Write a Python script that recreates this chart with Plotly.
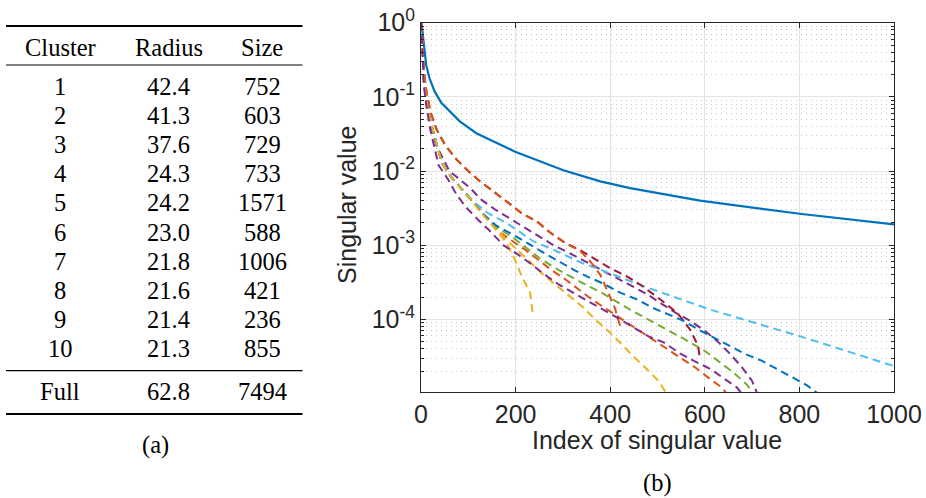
import plotly.graph_objects as go
import numpy as np

# ---------------- Table (a) data ----------------
table_header = ["Cluster", "Radius", "Size"]
clusters = ["1", "2", "3", "4", "5", "6", "7", "8", "9", "10"]
radius = ["42.4", "41.3", "37.6", "24.3", "24.2", "23.0", "21.8", "21.6", "21.4", "21.3"]
sizes = ["752", "603", "729", "733", "1571", "588", "1006", "421", "236", "855"]
full_row = ["Full", "62.8", "7494"]

# ---------------- Plot (b) data: index and log10(singular value) ----------------
full_idx = [1, 2, 4, 8, 11, 18, 29, 43, 61, 82, 117, 160, 199, 301, 379, 442, 590, 805, 1000]
full_log = [0, -0.05, -0.17, -0.39, -0.57, -0.75, -0.93, -1.08, -1.20, -1.33, -1.49, -1.62, -1.74,
            -1.99, -2.14, -2.23, -2.40, -2.58, -2.72]

c1_idx = [1, 3, 6, 10, 16, 26, 44, 65, 90, 114, 135, 160, 220, 277, 305, 333, 361, 425, 485, 516, 548, 580, 608, 636, 652]
c1_log = [0, -0.35, -0.75, -1.0, -1.22, -1.47, -1.89, -2.09, -2.27, -2.45, -2.61, -2.80, -3.06, -3.34, -3.46, -3.60,
          -3.73, -4.0, -4.25, -4.38, -4.52, -4.65, -4.79, -4.92, -5.05]

c2_idx = [1, 3, 6, 10, 16, 26, 44, 65, 90, 114, 135, 160, 181, 259, 291, 319, 343, 368, 400, 425, 449, 474, 502, 524]
c2_log = [0, -0.35, -0.75, -1.0, -1.22, -1.47, -1.89, -2.09, -2.27, -2.45, -2.61, -2.78, -2.93, -3.40, -3.57, -3.71,
          -3.84, -4.0, -4.18, -4.34, -4.50, -4.65, -4.83, -5.05]

c3_idx = [1, 3, 6, 12, 20, 32, 60, 104, 128, 157, 185, 220, 252, 280, 315, 347, 382, 414, 446, 478, 506, 538, 569,
          601, 629, 654, 679, 700, 714]
c3_log = [0, -0.35, -0.8, -1.1, -1.35, -1.65, -2.0, -2.23, -2.39, -2.52, -2.63, -2.77, -2.89, -3.0, -3.11, -3.22,
          -3.33, -3.44, -3.55, -3.66, -3.78, -3.91, -4.02, -4.16, -4.31, -4.47, -4.65, -4.83, -5.05]

c4_idx = [1, 3, 6, 10, 16, 26, 44, 65, 90, 114, 135, 160, 195, 224, 252, 284, 315, 347, 379, 410, 442, 474, 506, 538,
          569, 601, 633, 661, 689, 708]
c4_log = [0, -0.35, -0.75, -1.0, -1.22, -1.47, -1.89, -2.09, -2.27, -2.45, -2.61, -2.76, -2.90, -3.04, -3.18, -3.31,
          -3.42, -3.53, -3.63, -3.75, -3.87, -3.98, -4.09, -4.20, -4.31, -4.43, -4.58, -4.72, -4.88, -5.05]

c5_idx = [1, 3, 6, 10, 16, 26, 44, 65, 90, 114, 142, 178, 206, 238, 273, 308, 340, 372, 407, 478, 583, 612, 802, 1000]
c5_log = [0, -0.35, -0.75, -1.0, -1.22, -1.47, -1.89, -2.09, -2.27, -2.43, -2.57, -2.69, -2.81, -2.95, -3.04, -3.15,
          -3.24, -3.31, -3.40, -3.57, -3.80, -3.87, -4.23, -4.63]

c6_idx = [1, 3, 6, 12, 20, 33, 51, 76, 100, 125, 157, 185, 213, 245, 273, 305, 337, 368, 400, 435, 463, 491, 520, 544,
          569, 586, 589]
c6_log = [0, -0.3, -0.65, -0.95, -1.2, -1.44, -1.65, -1.85, -2.0, -2.14, -2.29, -2.43, -2.57, -2.68, -2.83, -2.97,
          -3.07, -3.19, -3.31, -3.42, -3.53, -3.66, -3.80, -3.93, -4.14, -4.36, -4.50]

c7_idx = [1, 3, 6, 10, 16, 26, 44, 65, 90, 114, 135, 160, 195, 259, 291, 322, 354, 386, 421, 456, 488, 523, 555, 587,
          619, 654, 686, 721, 753, 785, 816, 850]
c7_log = [0, -0.35, -0.75, -1.0, -1.22, -1.47, -1.89, -2.09, -2.27, -2.45, -2.60, -2.74, -2.86, -3.10, -3.22, -3.33,
          -3.43, -3.52, -3.64, -3.73, -3.84, -3.93, -4.02, -4.14, -4.25, -4.36, -4.47, -4.56, -4.67, -4.79, -4.89, -5.05]

c8_idx = [1, 3, 6, 12, 20, 33, 51, 76, 100, 125, 157, 185, 213, 245, 273, 305, 337, 358, 379, 396, 410, 421]
c8_log = [0, -0.3, -0.65, -0.95, -1.2, -1.44, -1.65, -1.85, -2.0, -2.14, -2.29, -2.43, -2.57, -2.68, -2.83, -2.97,
          -3.08, -3.22, -3.40, -3.64, -3.85, -4.09]

c9_idx = [1, 3, 6, 10, 16, 26, 44, 65, 90, 114, 135, 160, 181, 199, 213, 231, 236]
c9_log = [0, -0.35, -0.75, -1.0, -1.22, -1.47, -1.89, -2.09, -2.27, -2.45, -2.62, -2.80, -2.97, -3.20, -3.42, -3.65, -3.92]

c10_idx = [1, 3, 6, 12, 20, 37, 58, 75, 97, 121, 146, 174, 206, 234, 262, 291, 322, 351, 386, 421, 449, 481, 513, 545,
           577, 612, 668, 684]
c10_log = [0, -0.4, -0.85, -1.15, -1.45, -1.92, -2.12, -2.32, -2.50, -2.66, -2.81, -3.0, -3.13, -3.26, -3.40, -3.53,
           -3.64, -3.75, -3.87, -4.0, -4.11, -4.23, -4.31, -4.45, -4.56, -4.67, -4.92, -5.05]

cluster_series = [(c1_idx, c1_log), (c2_idx, c2_log), (c3_idx, c3_log), (c4_idx, c4_log), (c5_idx, c5_log),
                  (c6_idx, c6_log), (c7_idx, c7_log), (c8_idx, c8_log), (c9_idx, c9_log), (c10_idx, c10_log)]

x_ticks = [0, 200, 400, 600, 800, 1000]
y_ticks = [1, 0.1, 0.01, 0.001, 0.0001]
y_ticktext = ["10<sup>0</sup>", "10<sup>-1</sup>", "10<sup>-2</sup>", "10<sup>-3</sup>", "10<sup>-4</sup>"]

matlab = ["#0072BD", "#D95319", "#EDB120", "#7E2F8E", "#77AC30", "#4DBEEE", "#A2142F"]

W, H = 926, 498
def px(x):
    return x / W
def py(y):
    return 1 - y / H

fig = go.Figure()
fig.add_trace(go.Scatter(x=full_idx, y=10 ** np.array(full_log), mode="lines",
                         line=dict(color=matlab[0], width=2.2), showlegend=False, hoverinfo="skip"))
for k, (ix, lg) in enumerate(cluster_series):
    col = matlab[(k + 1) % len(matlab)]
    fig.add_trace(go.Scatter(x=ix, y=10 ** np.array(lg), mode="lines",
                             line=dict(color=col, width=2, dash="8px,5px"),
                             showlegend=False, hoverinfo="skip"))

axis_col = "#262626"
sans = "Liberation Sans"
serif = "Liberation Serif"

fig.update_layout(
    width=W, height=H, margin=dict(l=0, r=0, t=0, b=0),
    paper_bgcolor="white", plot_bgcolor="white",
    xaxis=dict(domain=[px(421), px(894)], range=[0, 1000], tickvals=x_ticks,
               ticks="inside", ticklen=5, tickcolor=axis_col, showline=True, mirror="ticks",
               linecolor=axis_col, linewidth=1, showgrid=True, gridcolor="#e3e3e3", gridwidth=1,
               zeroline=False, tickfont=dict(family=sans, size=25, color=axis_col), automargin=False),
    yaxis=dict(domain=[py(392), py(22.7)], type="log", range=[-4.98, 0], tickvals=y_ticks,
               ticktext=y_ticktext, ticks="inside", ticklen=5, tickcolor=axis_col, showline=True,
               mirror="ticks", linecolor=axis_col, linewidth=1, showgrid=True, gridcolor="#e3e3e3",
               gridwidth=1, zeroline=False, tickfont=dict(family=sans, size=25, color=axis_col),
               automargin=False,
               minor=dict(tickmode="array",
                          tickvals=[m * 10.0 ** e for e in range(-5, 0) for m in range(2, 10)],
                          ticks="inside", ticklen=3, tickcolor=axis_col, showgrid=True,
                          gridcolor="#c4c4c4", griddash="1px,4px", gridwidth=1)),
)

shapes = []
for yy, lw in [(26, 2), (65, 1.2), (370.7, 1.2), (414, 2)]:
    shapes.append(dict(type="line", xref="paper", yref="paper", x0=px(6), x1=px(302.5),
                       y0=py(yy), y1=py(yy), line=dict(color="black", width=lw)))
fig.update_layout(shapes=shapes)

col_x = [60.5, 168.5, 262]
ann = []
def txt(x, y, s, size=24.5, family=serif, color="black", angle=0):
    ann.append(dict(x=px(x), y=py(y), xref="paper", yref="paper", text=s, showarrow=False,
                    xanchor="center", yanchor="middle", textangle=angle,
                    font=dict(family=family, size=size, color=color)))

for j, h in enumerate(table_header):
    txt(col_x[j], 48, h)
for i in range(len(clusters)):
    yy = 86.7 + 29.07 * i
    txt(col_x[0], yy, clusters[i])
    txt(col_x[1], yy, radius[i])
    txt(col_x[2], yy, sizes[i])
for j, v in enumerate(full_row):
    txt(col_x[j], 391.7, v)
txt(155, 445, "(a)")
txt(657, 483, "(b)")
txt(657, 440, "Index of singular value", size=25, family=sans, color=axis_col)
txt(347, 205, "Singular value", size=25, family=sans, color=axis_col, angle=-90)
fig.update_layout(annotations=ann)

fig.write_html("out.html", config={"displayModeBar": False},
               post_script="document.body.style.margin='0';document.body.style.overflow='hidden';")
